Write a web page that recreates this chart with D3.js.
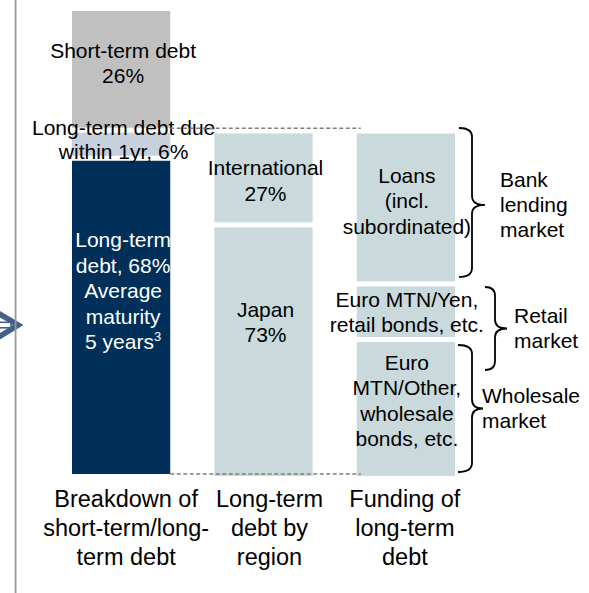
<!DOCTYPE html>
<html>
<head>
<meta charset="utf-8">
<script src="https://cdn.jsdelivr.net/npm/d3@7"></script>
<style>
  body { margin: 0; background: #fff; }
  svg { display: block; }
  text { font-family: "Liberation Sans", Arial, sans-serif; }
</style>
</head>
<body>
<script>
var width = 589, height = 593;

// data
var columns = ["breakdown", "region", "funding"];
var columnLabels = [["Breakdown of", "short-term/long-", "term debt"],
                    ["Long-term", "debt by", "region"],
                    ["Funding of", "long-term", "debt"]];
var breakdownValues = [26, 6, 68];
var breakdownLabels = [["Short-term debt", "26%"], [], ["Long-term", "debt, 68%", "Average", "maturity", "5 years"]];
var dueLabel = ["Long-term debt due", "within 1yr, 6%"];
var maturityNote = "3";
var regionValues = [27, 73];
var regionLabels = [["International", "27%"], ["Japan", "73%"]];
var fundingValues = [44, 16, 40];
var fundingLabels = [["Loans", "(incl.", "subordinated)"],
                     ["Euro MTN/Yen,", "retail bonds, etc."],
                     ["Euro", "MTN/Other,", "wholesale", "bonds, etc."]];
var marketLabels = [["Bank", "lending", "market"], ["Retail", "market"], ["Wholesale", "market"]];

// layout
var gap = 2.5, lineH = 25.5;
var breakdownColors = ["#c0c0c0", "#c6d1dd", "#00305a"];
var longColor = "#c9d9dc";
var textShift = {breakdown: [-6, 0, -26], region: [3, -29], funding: [-6, 1, -8]};
var textDx = [2, 2, 1];
var braceLayout = [
  {dy0: -5.5, dy1: -4.5, hook: 4, spine: 17, tip: 30, tipDy: 2.5, labelX: 45},
  {dy0: 0.6, dy1: 33, hook: 30, spine: 40, tip: 52, tipDy: 0, labelX: 59},
  {dy0: 3, dy1: -4, hook: 3, spine: 17, tip: 28, tipDy: 0, labelX: 27}
];

var svg = d3.select("body").append("svg")
    .attr("width", width)
    .attr("height", height);

var x = d3.scaleBand().domain(columns).range([72, 455]).paddingInner(0.31);
var bw = x.bandwidth();
var yAll = d3.scaleLinear().domain([0, 100]).range([8.5, 476.5]);
var yLong = d3.scaleLinear().domain([0, 100]).range([131, 478.5]);

function stackUp(values) {
  var acc = 0;
  return values.map(function(v, i) {
    var s = {i: i, v0: acc, v1: acc + v};
    acc += v;
    return s;
  });
}

// left arrow and rule
var arrowColor = "#41618a";
svg.append("polygon")
    .attr("points", "0,311 23.5,325 0,339.5 0,333 13,325 0,317.5")
    .style("fill", arrowColor);
svg.append("rect")
    .attr("x", -2).attr("y", 322.3).attr("width", 13).attr("height", 5.5)
    .style("fill", "#fff").style("stroke", arrowColor).style("stroke-width", 1.6);
svg.append("line")
    .attr("x1", 15.6).attr("x2", 15.6).attr("y1", 0).attr("y2", height)
    .style("stroke", "#999").style("stroke-width", 1.8);

function drawColumn(col, ci, values, yScale, colors, labels, textColors) {
  var segs = stackUp(values);
  var g = svg.append("g");
  g.selectAll("rect")
    .data(segs)
    .enter()
    .append("rect")
    .attr("x", x(col))
    .attr("width", bw)
    .attr("y", function(d) { return yScale(d.v0) + gap; })
    .attr("height", function(d) { return yScale(d.v1) - yScale(d.v0) - 2 * gap; })
    .style("fill", function(d) { return colors[d.i]; });

  segs.forEach(function(d) {
    var lines = labels[d.i];
    if (!lines.length) return;
    var mid = (yScale(d.v0) + yScale(d.v1)) / 2 + 7 + textShift[col][d.i];
    var cx = x(col) + bw / 2 + textDx[ci];
    var t = g.append("text")
        .attr("text-anchor", "middle")
        .attr("font-size", "21px")
        .attr("fill", textColors[d.i]);
    lines.forEach(function(s, k) {
      t.append("tspan")
        .attr("x", cx)
        .attr("y", mid + (k - (lines.length - 1) / 2) * lineH)
        .text(s);
    });
    if (col === "breakdown" && d.i === 2) {
      t.append("tspan").attr("dy", -8).attr("font-size", "13px").text(maturityNote);
    }
  });
  return segs;
}

drawColumn("breakdown", 0, breakdownValues, yAll, breakdownColors, breakdownLabels, ["#000", "#000", "#fff"]);
drawColumn("region", 1, regionValues, yLong, [longColor, longColor], regionLabels, ["#000", "#000"]);
var fundingSegs = drawColumn("funding", 2, fundingValues, yLong, [longColor, longColor, longColor], fundingLabels, ["#000", "#000", "#000"]);

// label of the thin "due within 1yr" slice
var dueMid = (yAll(breakdownValues[0]) + yAll(breakdownValues[0] + breakdownValues[1])) / 2 + 7 - 4;
var dueText = svg.append("text")
    .attr("text-anchor", "middle")
    .attr("font-size", "21px")
    .attr("fill", "#000");
dueLabel.forEach(function(s, k) {
  dueText.append("tspan")
    .attr("x", x("breakdown") + bw / 2 + 2.5)
    .attr("y", dueMid + (k - 0.5) * 24)
    .text(s);
});

// dashed connectors
var dashY = [yAll(breakdownValues[0]) - 2, yAll(100) - gap];
svg.selectAll("line.dash")
  .data(dashY)
  .enter()
  .append("line")
  .attr("class", "dash")
  .attr("x1", x("breakdown") + bw)
  .attr("x2", x("funding") + 4)
  .attr("y1", function(d) { return d; })
  .attr("y2", function(d) { return d; })
  .style("stroke", "#7f7f7f")
  .style("stroke-width", 1.5)
  .style("stroke-dasharray", "4,2.5");

// braces for the markets
var right = x("funding") + bw;
fundingSegs.forEach(function(d) {
  var L = braceLayout[d.i];
  var y0 = yLong(d.v0) + gap + L.dy0;
  var y1 = yLong(d.v1) - gap + L.dy1;
  var ym = (y0 + y1) / 2 + L.tipDy;
  var x0 = right + L.hook, xs = right + L.spine, xt = right + L.tip, r = 9;
  var p = d3.path();
  p.moveTo(x0, y0);
  p.quadraticCurveTo(xs, y0, xs, y0 + r);
  p.lineTo(xs, ym - r);
  p.quadraticCurveTo(xs, ym, xt, ym);
  p.quadraticCurveTo(xs, ym, xs, ym + r);
  p.lineTo(xs, y1 - r);
  p.quadraticCurveTo(xs, y1, x0, y1);
  svg.append("path")
    .attr("d", p.toString())
    .style("fill", "none")
    .style("stroke", "#000")
    .style("stroke-width", 1.8);

  var lines = marketLabels[d.i];
  var t = svg.append("text")
      .attr("font-size", "21px")
      .attr("fill", "#000");
  lines.forEach(function(s, k) {
    t.append("tspan")
      .attr("x", right + L.labelX)
      .attr("y", ym + 7 + (k - (lines.length - 1) / 2) * 25)
      .text(s);
  });
});

// column titles
var titleDx = [5, 6, -1];
columns.forEach(function(col, i) {
  var t = svg.append("text")
      .attr("text-anchor", "middle")
      .attr("font-size", "23.5px")
      .attr("fill", "#000");
  columnLabels[i].forEach(function(s, k) {
    t.append("tspan")
      .attr("x", x(col) + bw / 2 + titleDx[i])
      .attr("y", 507 + k * 29)
      .text(s);
  });
});
</script>
</body>
</html>
